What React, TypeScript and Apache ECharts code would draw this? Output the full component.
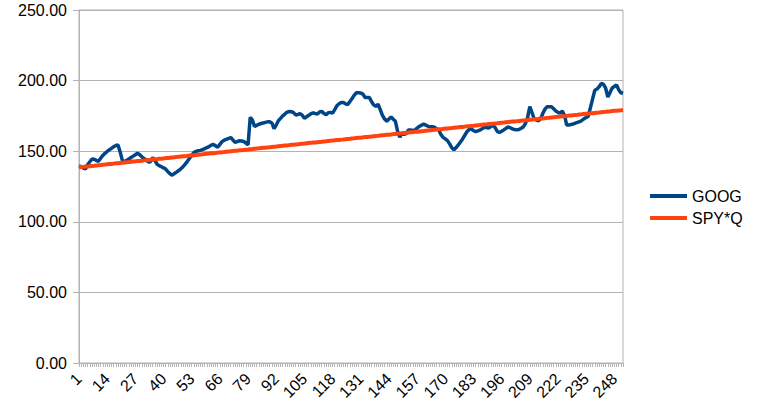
import React, { useEffect, useRef } from "react";
import * as echarts from "echarts";

const categories: string[] = Array.from({ length: 252 }, (_, i) => String(i + 1));

const goog: number[] = [
  139.5, 139.0, 138.0, 137.5, 140.5, 142.5, 144.5, 144.3, 143.5, 142.8,
  145.0, 147.0, 148.5, 149.8, 151.0, 152.0, 153.2, 154.0, 154.4, 149.5,
  143.5, 142.6, 143.5, 144.5, 145.5, 146.5, 147.5, 148.6, 147.5, 146.0,
  144.8, 143.9, 142.4, 142.5, 145.5, 143.5, 140.8, 139.8, 139.0, 138.2,
  137.3, 135.5, 134.0, 133.0, 134.2, 135.2, 136.3, 137.5, 139.0, 140.8,
  142.8, 145.0, 147.0, 149.0, 149.9, 150.3, 150.6, 151.2, 151.8, 152.5,
  153.2, 154.3, 154.8, 153.8, 152.8, 154.8, 156.8, 157.8, 158.4, 159.0,
  159.7, 158.0, 156.2, 156.8, 157.4, 157.2, 156.9, 155.8, 154.4, 174.0,
  172.0, 167.5, 168.3, 169.1, 169.6, 170.0, 170.4, 170.8, 170.8, 170.0,
  166.0, 168.5, 171.6, 173.3, 175.0, 176.3, 177.7, 178.1, 178.0, 177.3,
  175.7, 176.0, 176.6, 175.5, 173.4, 174.4, 175.4, 176.5, 177.2, 176.7,
  176.3, 177.8, 178.2, 176.8, 175.8, 177.3, 177.5, 177.0, 179.5, 182.2,
  183.6, 184.5, 184.5, 183.5, 183.0, 185.2, 187.3, 189.7, 191.4, 191.4,
  191.2, 190.4, 188.0, 188.0, 188.0, 185.0, 182.8, 181.7, 183.3, 179.5,
  175.4, 172.8, 171.3, 172.8, 174.2, 172.6, 171.2, 164.0, 160.0, 162.5,
  162.0, 162.5, 165.0, 165.0, 164.7, 165.0, 166.3, 167.5, 168.4, 169.2,
  168.5, 167.6, 167.3, 167.3, 167.0, 166.0, 165.0, 161.8, 159.8, 158.7,
  157.5, 155.2, 152.5, 151.0, 152.6, 154.4, 156.5, 158.7, 161.3, 163.8,
  165.4, 165.7, 164.7, 163.9, 164.4, 165.0, 165.9, 166.9, 166.8, 166.3,
  167.4, 168.4, 166.7, 164.0, 163.2, 164.1, 165.1, 166.2, 167.2, 166.6,
  165.8, 165.3, 165.1, 165.3, 166.2, 167.2, 169.6, 174.0, 181.5, 177.4,
  173.0, 172.2, 171.5, 173.0, 176.8, 179.8, 181.5, 181.5, 181.5, 180.0,
  178.5, 177.5, 176.9, 178.4, 175.5, 168.6, 168.6, 168.9, 169.3, 169.8,
  170.4, 170.9, 171.8, 172.9, 173.8, 174.8, 181.0, 187.2, 193.2, 194.0,
  195.7, 198.0, 197.3, 194.6, 188.4, 191.5, 194.8, 195.8, 196.9, 193.6,
  191.4, 191.0,
];

const spyQ: number[] = [
  138.6, 138.8, 138.9, 139.1, 139.2, 139.4, 139.6, 139.7, 139.9, 140.1,
  140.2, 140.4, 140.5, 140.7, 140.9, 141.0, 141.2, 141.4, 141.5, 141.7,
  141.8, 142.0, 142.2, 142.3, 142.5, 142.7, 142.8, 143.0, 143.1, 143.3,
  143.5, 143.6, 143.8, 143.9, 144.1, 144.3, 144.4, 144.6, 144.7, 144.9,
  145.1, 145.2, 145.4, 145.6, 145.7, 145.9, 146.0, 146.2, 146.4, 146.5,
  146.7, 146.9, 147.0, 147.2, 147.3, 147.5, 147.7, 147.8, 148.0, 148.2,
  148.3, 148.5, 148.6, 148.8, 149.0, 149.1, 149.3, 149.4, 149.6, 149.8,
  149.9, 150.1, 150.3, 150.4, 150.6, 150.7, 150.9, 151.1, 151.2, 151.4,
  151.5, 151.7, 151.9, 152.0, 152.2, 152.4, 152.5, 152.7, 152.8, 153.0,
  153.2, 153.3, 153.5, 153.6, 153.8, 154.0, 154.1, 154.3, 154.5, 154.6,
  154.8, 154.9, 155.1, 155.3, 155.4, 155.6, 155.8, 155.9, 156.1, 156.2,
  156.4, 156.6, 156.7, 156.9, 157.0, 157.2, 157.4, 157.5, 157.7, 157.9,
  158.0, 158.2, 158.3, 158.5, 158.7, 158.8, 159.0, 159.1, 159.3, 159.5,
  159.6, 159.8, 160.0, 160.1, 160.3, 160.4, 160.6, 160.8, 160.9, 161.1,
  161.3, 161.4, 161.6, 161.7, 161.9, 162.1, 162.2, 162.4, 162.5, 162.7,
  162.9, 163.0, 163.2, 163.4, 163.5, 163.7, 163.8, 164.0, 164.2, 164.3,
  164.5, 164.7, 164.8, 165.0, 165.1, 165.3, 165.5, 165.6, 165.8, 166.0,
  166.1, 166.3, 166.4, 166.6, 166.8, 166.9, 167.1, 167.2, 167.4, 167.6,
  167.7, 167.9, 168.0, 168.2, 168.4, 168.5, 168.7, 168.9, 169.0, 169.2,
  169.3, 169.5, 169.7, 169.8, 170.0, 170.2, 170.3, 170.5, 170.6, 170.8,
  171.0, 171.1, 171.3, 171.4, 171.6, 171.8, 171.9, 172.1, 172.3, 172.4,
  172.6, 172.7, 172.9, 173.1, 173.2, 173.4, 173.6, 173.7, 173.9, 174.0,
  174.2, 174.4, 174.5, 174.7, 174.8, 175.0, 175.2, 175.3, 175.5, 175.7,
  175.8, 176.0, 176.1, 176.3, 176.5, 176.6, 176.8, 176.9, 177.1, 177.3,
  177.4, 177.6, 177.8, 177.9, 178.1, 178.2, 178.4, 178.6, 178.7, 178.9,
  179.0, 179.2,
];

const seriesNames = ["GOOG", "SPY*Q"];
const seriesColors = ["#004586", "#ff420e"];

export default function App() {
  const ref = useRef<HTMLDivElement>(null);
  useEffect(() => {
    if (!ref.current) return;
    const chart = echarts.init(ref.current, null, { renderer: "svg" });
    const font = "Liberation Sans, Arial, sans-serif";
    chart.setOption({
      animation: false,
      backgroundColor: "#ffffff",
      textStyle: { fontFamily: font },
      grid: {
        left: 79,
        right: 134,
        top: 10,
        bottom: 48,
        show: true,
        borderColor: "#b3b3b3",
        borderWidth: 1,
      },
      legend: {
        orient: "vertical",
        left: 645,
        top: 183,
        itemWidth: 37,
        itemHeight: 4,
        itemGap: 6,
        icon: "rect",
        textStyle: { fontFamily: font, fontSize: 16, color: "#000000" },
        data: seriesNames,
      },
      xAxis: {
        type: "category",
        boundaryGap: false,
        data: categories,
        axisLine: { lineStyle: { color: "#b3b3b3", width: 1 } },
        axisTick: { show: true, interval: 0, length: 4, lineStyle: { color: "#b3b3b3" } },
        axisLabel: {
          interval: 12,
          rotate: 45,
          fontSize: 16,
          fontFamily: font,
          color: "#000000",
          margin: 13,
        },
        splitLine: { show: false },
      },
      yAxis: {
        type: "value",
        min: 0,
        max: 250,
        interval: 50,
        axisLine: { show: true, lineStyle: { color: "#b3b3b3", width: 1 } },
        axisTick: { show: true, length: 6, lineStyle: { color: "#b3b3b3" } },
        axisLabel: {
          fontSize: 16,
          fontFamily: font,
          color: "#000000",
          margin: 12,
          formatter: (v: number) => v.toFixed(2),
        },
        splitLine: { show: true, lineStyle: { color: "#b3b3b3", width: 1 } },
      },
      series: [
        {
          name: seriesNames[0],
          type: "line",
          data: goog,
          showSymbol: false,
          symbol: "none",
          color: seriesColors[0],
          lineStyle: { color: seriesColors[0], width: 3.5 },
        },
        {
          name: seriesNames[1],
          type: "line",
          data: spyQ,
          showSymbol: false,
          symbol: "none",
          color: seriesColors[1],
          lineStyle: { color: seriesColors[1], width: 4 },
        },
      ],
    });
    return () => chart.dispose();
  }, []);
  return <div ref={ref} style={{ width: 757, height: 411, position: "absolute", left: 0, top: 0 }} />;
}
